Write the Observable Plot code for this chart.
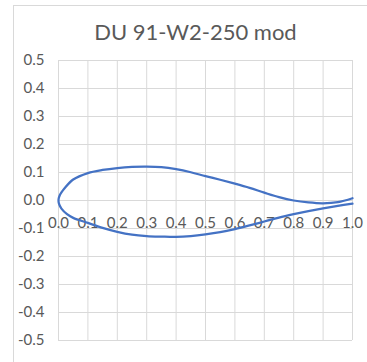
<!DOCTYPE html>
<html>
<head>
<meta charset="utf-8">
<script src="https://cdn.jsdelivr.net/npm/d3@7"></script>
<script src="https://cdn.jsdelivr.net/npm/@observablehq/plot@0.6"></script>
<style>
  html, body { margin: 0; padding: 0; background: #fff; }
  #wrap { position: relative; width: 367px; height: 362px; overflow: hidden; font-family: Lato, "Open Sans", sans-serif; }
  #frame { position: absolute; left: 13px; top: 5px; width: 400px; height: 400px;
           border-top: 1px solid #d9d9d9; border-left: 1px solid #d9d9d9; }
  #title { position: absolute; left: 13px; width: 365px; top: 18px; text-align: center;
           font-size: 22px; color: #595959; }
  #chart { position: absolute; left: 0; top: 0; }
</style>
</head>
<body>
<div id="wrap">
  <div id="frame"></div>
  <div id="chart"></div>
  <div id="title">DU 91-W2-250 mod</div>
</div>
<script>
// Airfoil coordinates (chord-normalised), leading edge to trailing edge
const upperX = [0.000, 0.001, 0.004, 0.010, 0.020, 0.050, 0.100, 0.150, 0.200, 0.250, 0.300, 0.350, 0.400, 0.450, 0.500, 0.550, 0.600, 0.650, 0.700, 0.750, 0.800, 0.850, 0.900, 0.950, 1.000];
const upperY = [0.000, 0.009, 0.018, 0.029, 0.043, 0.075, 0.098, 0.109, 0.116, 0.120, 0.121, 0.119, 0.112, 0.101, 0.087, 0.074, 0.060, 0.045, 0.028, 0.012, 0.000, -0.007, -0.010, -0.006, 0.008];
const lowerX = [0.000, 0.001, 0.004, 0.010, 0.029, 0.050, 0.100, 0.150, 0.200, 0.250, 0.300, 0.350, 0.400, 0.450, 0.500, 0.550, 0.600, 0.650, 0.700, 0.750, 0.800, 0.850, 0.900, 0.950, 1.000];
const lowerY = [0.000, -0.009, -0.018, -0.029, -0.049, -0.062, -0.080, -0.098, -0.112, -0.122, -0.127, -0.129, -0.130, -0.127, -0.121, -0.113, -0.102, -0.089, -0.075, -0.061, -0.049, -0.038, -0.028, -0.019, -0.011];

// Axis ticks
const xTicks = [0.0, 0.1, 0.2, 0.3, 0.4, 0.5, 0.6, 0.7, 0.8, 0.9, 1.0];
const yTicks = [-0.5, -0.4, -0.3, -0.2, -0.1, 0.0, 0.1, 0.2, 0.3, 0.4, 0.5];

// One outline: upper surface from trailing edge to nose, then lower surface back
const outline = [];
for (let i = upperX.length - 1; i >= 0; i--) outline.push({x: upperX[i], y: upperY[i]});
for (let i = 1; i < lowerX.length; i++) outline.push({x: lowerX[i], y: lowerY[i]});

const fmt = d => d.toFixed(1);
const gray = "#595959";

const chart = Plot.plot({
  width: 367,
  height: 362,
  marginLeft: 58,
  marginRight: 15,
  marginTop: 60,
  marginBottom: 22,
  style: {fontFamily: "Lato, 'Open Sans', sans-serif", background: "transparent", overflow: "visible"},
  x: {domain: [0, 1]},
  y: {domain: [-0.5, 0.5]},
  marks: [
    Plot.gridX(xTicks, {stroke: "#d9d9d9", strokeOpacity: 1}),
    Plot.gridY(yTicks, {stroke: "#d9d9d9", strokeOpacity: 1}),
    Plot.axisY(yTicks, {tickSize: 0, tickPadding: 14, tickFormat: fmt, fontSize: 15, fill: gray, label: null}),
    Plot.axisX([], {label: null, tickSize: 0}),
    Plot.text(xTicks, {x: d => d, y: () => 0, text: fmt, dy: 23, fontSize: 15, fill: gray}),
    Plot.line(outline, {x: "x", y: "y", curve: "catmull-rom", stroke: "#4472c4", strokeWidth: 2.25})
  ]
});
document.getElementById("chart").appendChild(chart);
</script>
</body>
</html>
